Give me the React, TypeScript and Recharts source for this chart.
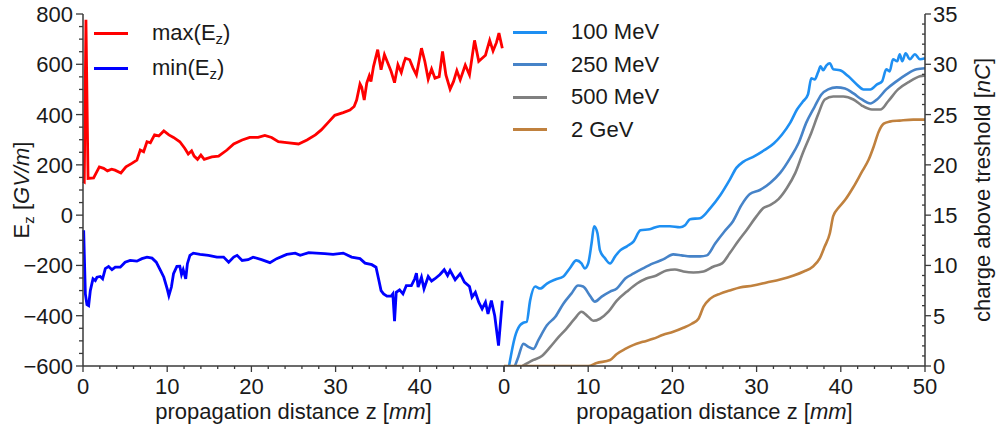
import { Label, Legend, Line, LineChart, XAxis, YAxis } from "recharts";

// ---- left panel: peak fields [GV/m] vs z [mm]
const maxEz: [number, number][] = [
  [0, 135], [0.15, 132], [0.35, 777], [0.6, 146], [1.26, 148], [1.94, 192], [2.45, 186], [2.9, 176],
  [3.4, 183], [3.8, 179], [4.5, 168], [5.1, 192], [5.8, 206], [6.4, 219], [6.8, 259], [7.2, 252],
  [7.6, 292], [8.0, 288], [8.5, 319], [9.0, 315], [9.6, 335], [10.2, 319], [10.75, 309], [11.5, 292],
  [12.1, 265], [12.5, 243], [12.9, 256], [13.2, 235], [13.6, 222], [14.0, 239], [14.4, 222], [15.3, 232],
  [16.1, 235], [17.1, 259], [17.9, 283], [18.9, 299], [19.8, 309], [20.8, 309], [21.6, 317], [22.4, 309],
  [23.2, 292], [24.2, 288], [25.6, 283], [26.6, 299], [27.6, 319], [28.3, 339], [29.1, 368], [29.9, 397],
  [30.9, 408], [31.7, 418], [32.2, 432], [32.5, 458], [32.9, 522], [33.1, 509], [33.4, 458], [33.7, 525],
  [34.0, 554], [34.2, 531], [34.5, 591], [35.0, 658], [35.4, 578], [35.8, 638], [36.2, 605], [36.6, 571],
  [37.0, 527], [37.4, 598], [37.8, 567], [38.1, 605], [38.3, 624], [38.8, 618], [39.2, 585], [39.6, 558],
  [40.2, 664], [40.6, 611], [41.0, 541], [41.4, 581], [41.8, 545], [42.3, 551], [42.7, 651], [43.1, 558],
  [43.6, 501], [44.0, 531], [44.4, 575], [44.8, 538], [45.4, 597], [45.9, 558], [46.5, 695], [47.0, 612],
  [47.5, 627], [47.8, 636], [48.0, 660], [48.3, 695], [48.7, 653], [49.1, 686], [49.4, 724], [49.8, 664],
];

const minEz: [number, number][] = [
  [0.08, -60], [0.28, -313], [0.47, -356], [0.67, -360], [0.87, -300], [1.19, -253], [1.46, -260],
  [1.66, -247], [2.05, -244], [2.33, -253], [2.65, -213], [3.04, -204], [3.44, -217], [3.83, -207],
  [4.43, -207], [5.0, -187], [5.6, -180], [6.4, -183], [7.0, -173], [7.6, -167], [8.2, -171], [8.7, -187],
  [9.2, -220], [9.6, -247], [10.0, -293], [10.2, -320], [10.5, -286], [10.75, -233], [11.15, -204],
  [11.5, -203], [11.7, -236], [11.9, -217], [12.2, -253], [12.4, -193], [12.7, -160], [13.1, -151],
  [13.9, -156], [14.9, -160], [15.9, -167], [16.7, -167], [17.3, -187], [17.9, -167], [18.3, -160],
  [18.9, -180], [19.6, -177], [20.2, -167], [21.2, -177], [22.2, -189], [23.0, -173], [24.2, -156],
  [25.2, -151], [25.8, -160], [26.8, -149], [27.7, -151], [28.7, -153], [29.7, -156], [30.9, -151],
  [31.9, -167], [32.9, -173], [33.5, -191], [34.3, -197], [34.8, -207], [35.1, -253], [35.4, -300],
  [35.7, -313], [36.1, -322], [36.6, -322], [36.8, -313], [37.0, -422], [37.2, -307], [37.6, -297],
  [38.0, -313], [38.4, -280], [39.0, -280], [39.4, -253], [39.6, -231], [39.8, -286], [40.2, -247],
  [40.5, -293], [41.0, -244], [41.4, -262], [41.8, -253], [42.4, -236], [42.9, -217], [43.3, -240],
  [43.6, -220], [44.2, -257], [44.8, -233], [45.3, -266], [45.9, -284], [46.2, -326], [46.6, -307],
  [47.0, -346], [47.4, -373], [47.8, -346], [48.1, -393], [48.5, -340], [48.9, -400], [49.35, -519],
  [49.8, -340],
];

// ---- right panel: charge above threshold [nC] vs z [mm]
const q100: [number, number][] = [
  [0.6, 0], [1.3, 2.9], [1.9, 4.05], [2.3, 4.3], [2.7, 4.4], [3.1, 6.5], [3.7, 7.9], [4.3, 7.7],
  [5.1, 8.2], [6.1, 8.6], [7.05, 8.9], [7.8, 9.7], [8.6, 10.5], [9.2, 10.2], [9.6, 9.7], [10.0, 10.2],
  [10.4, 12.2], [10.7, 13.9], [11.1, 13.2], [11.4, 11.5], [12.0, 10.7], [12.6, 10.2], [13.2, 10.9],
  [13.8, 11.5], [14.6, 11.9], [15.4, 12.4], [16.2, 13.5], [17.3, 13.6], [18.5, 13.9], [19.7, 13.9],
  [20.9, 13.8], [21.5, 14.0], [22.1, 14.6], [23.3, 14.7], [24.5, 15.7], [25.7, 17.0], [26.8, 18.5],
  [27.6, 19.7], [28.4, 20.3], [29.6, 20.8], [30.8, 21.4], [32.0, 22.1], [33.0, 23.0], [34.0, 24.2],
  [34.8, 25.5], [35.5, 26.3], [36.1, 27.0], [36.5, 28.6], [36.9, 28.5], [37.3, 29.2], [37.6, 29.8],
  [37.9, 29.4], [38.3, 29.9], [38.7, 30.1], [39.1, 29.5], [39.9, 29.4], [40.9, 28.8], [41.9, 28.0],
  [42.7, 27.5], [43.5, 27.5], [44.3, 28.0], [44.9, 28.3], [45.4, 29.5], [45.8, 29.3], [46.2, 30.5],
  [46.7, 30.3], [47.0, 31.0], [47.3, 30.3], [47.7, 31.1], [48.2, 30.5], [48.8, 31.0], [49.4, 30.5],
  [50, 30.6],
];

const q250: [number, number][] = [
  [1.3, 0], [1.7, 0.9], [2.3, 2.2], [2.9, 1.9], [3.5, 1.7], [4.1, 2.6], [5.1, 4.05], [6.1, 4.9],
  [7.05, 6.2], [8.0, 7.2], [8.8, 8.0], [9.4, 7.9], [10.2, 7.0], [10.8, 6.4], [11.6, 6.9], [12.6, 7.4],
  [13.4, 7.7], [14.4, 8.7], [15.4, 9.2], [16.5, 9.7], [17.7, 10.2], [18.9, 10.6], [20.1, 11.1],
  [21.1, 11.0], [22.1, 10.9], [23.3, 10.9], [24.1, 11.0], [25.1, 12.2], [26.2, 13.4], [27.2, 14.4],
  [28.2, 16.0], [29.2, 17.1], [30.4, 17.5], [31.6, 18.2], [32.8, 19.2], [34.0, 20.7], [35.0, 22.2],
  [35.9, 24.2], [36.9, 25.8], [37.7, 27.0], [38.5, 27.5], [39.5, 27.7], [40.5, 27.6], [41.5, 27.1],
  [42.5, 26.5], [43.5, 26.1], [44.3, 26.5], [45.4, 27.5], [46.6, 28.3], [47.8, 29.0], [49.0, 29.5],
  [50, 29.6],
];

const q500: [number, number][] = [
  [2.2, 0], [3.5, 0.6], [4.5, 1.0], [5.5, 1.9], [6.5, 2.9], [7.4, 3.7], [8.4, 4.7], [9.2, 5.4],
  [10.0, 4.9], [10.6, 4.5], [11.4, 4.7], [12.4, 5.4], [13.4, 6.5], [14.6, 7.4], [15.8, 8.2],
  [16.9, 8.7], [18.1, 9.0], [19.3, 9.5], [20.3, 9.6], [21.3, 9.4], [22.5, 9.3], [23.7, 9.4],
  [24.9, 9.9], [25.9, 10.2], [26.8, 11.2], [27.8, 12.4], [28.8, 13.5], [30.0, 14.9], [30.8, 15.7],
  [31.6, 16.0], [32.6, 16.6], [33.6, 17.7], [34.6, 19.2], [35.5, 21.2], [36.5, 23.2], [37.3, 25.0],
  [38.1, 26.5], [39.1, 26.8], [40.3, 26.8], [41.5, 26.5], [42.5, 25.9], [43.7, 25.5], [44.7, 25.5],
  [45.6, 26.3], [46.8, 27.5], [48.2, 28.3], [49.4, 28.8], [50, 28.9],
];

const q2000: [number, number][] = [
  [0, 0], [10.0, 0], [11.0, 0.3], [12.6, 0.6], [13.4, 1.2], [14.4, 1.7], [15.4, 2.1], [16.5, 2.4],
  [17.7, 2.7], [18.9, 3.1], [20.1, 3.4], [21.3, 3.8], [22.3, 4.2], [23.1, 4.7], [23.7, 5.9],
  [24.5, 6.7], [25.7, 7.2], [26.8, 7.5], [28.0, 7.8], [29.6, 8.0], [31.2, 8.3], [32.8, 8.6],
  [34.4, 9.0], [35.6, 9.4], [36.7, 9.9], [37.5, 10.7], [38.1, 11.9], [38.7, 13.2], [39.1, 14.9],
  [39.7, 15.7], [40.5, 16.5], [41.5, 17.8], [42.5, 19.3], [43.3, 20.5], [43.9, 21.8], [44.5, 23.3],
  [45.1, 24.1], [45.8, 24.3], [47.0, 24.4], [48.6, 24.5], [50, 24.5],
];

const zTicks = [0, 2, 4, 6, 8, 10, 12, 14, 16, 18, 20, 22, 24, 26, 28, 30, 32, 34, 36, 38, 40, 42, 44, 46, 48, 50];
const ezTicks = [-600, -550, -500, -450, -400, -350, -300, -250, -200, -150, -100, -50, 0, 50, 100, 150, 200, 250, 300, 350, 400, 450, 500, 550, 600, 650, 700, 750, 800];
const qTicks = [0, 1, 2, 3, 4, 5, 6, 7, 8, 9, 10, 11, 12, 13, 14, 15, 16, 17, 18, 19, 20, 21, 22, 23, 24, 25, 26, 27, 28, 29, 30, 31, 32, 33, 34, 35];

const toPts = (a: [number, number][]) => a.map(([z, v]) => ({ z, v }));

const AXIS = "#3a3a3a";
const TXT = "#1a1a1a";
const FS = 22;
const FONT = "'Liberation Sans', Arial, sans-serif";

const leftSeries = [
  { name: "max", color: "#ff0000", data: maxEz },
  { name: "min", color: "#0000ff", data: minEz },
];
const rightSeries = [
  { name: "100 MeV", color: "#1e8ff2", data: q100 },
  { name: "250 MeV", color: "#4683c8", data: q250 },
  { name: "500 MeV", color: "#808080", data: q500 },
  { name: "2 GeV", color: "#c0813e", data: q2000 },
];

function XTick(props: any) {
  const { x, y, payload, hideLast } = props;
  const v = payload.value;
  const major = v % 10 === 0;
  const show = major && !(hideLast && v === 50);
  return (
    <g>
      <line x1={x} x2={x} y1={y} y2={y + (major ? 6 : 3)} stroke={AXIS} strokeWidth={1.3} />
      {show && (
        <text x={x} y={y + 28} textAnchor="middle" fontSize={FS} fill={TXT} fontFamily={FONT}>
          {v}
        </text>
      )}
    </g>
  );
}

function EzTick(props: any) {
  const { x, y, payload } = props;
  const v = payload.value;
  const major = v % 200 === 0;
  return (
    <g>
      <line x1={x} x2={x - (major ? 7 : 4)} y1={y} y2={y} stroke={AXIS} strokeWidth={1.3} />
      {major && (
        <text x={x - 10} y={y + 8} textAnchor="end" fontSize={FS} fill={TXT} fontFamily={FONT}>
          {v < 0 ? "\u2212" + Math.abs(v) : v}
        </text>
      )}
    </g>
  );
}

function QTick(props: any) {
  const { x, y, payload } = props;
  const v = payload.value;
  const major = v % 5 === 0;
  return (
    <g>
      {major ? (
        <line x1={x} x2={x + 6} y1={y} y2={y} stroke={AXIS} strokeWidth={1.3} />
      ) : (
        <line x1={x} x2={x - 3} y1={y} y2={y} stroke={AXIS} strokeWidth={1.3} />
      )}
      {major && (
        <text x={x + 8} y={y + 8} textAnchor="start" fontSize={FS} fill={TXT} fontFamily={FONT}>
          {v}
        </text>
      )}
    </g>
  );
}

const zTitle = (props: any) => {
  const { viewBox } = props;
  const cx = viewBox.x + viewBox.width / 2;
  return (
    <text x={cx} y={viewBox.y + 53} textAnchor="middle" fontSize={FS} fill={TXT} fontFamily={FONT}>
      propagation distance z [<tspan fontStyle="italic">mm</tspan>]
    </text>
  );
};

const ezTitle = (props: any) => {
  const { viewBox } = props;
  const cy = viewBox.y + viewBox.height / 2;
  const cx = 29;
  return (
    <text x={cx} y={cy} transform={`rotate(-90 ${cx} ${cy})`} textAnchor="middle" fontSize={FS} fill={TXT} fontFamily={FONT}>
      E<tspan fontSize={15} dy={5}>z</tspan>
      <tspan dy={-5}> [</tspan>
      <tspan fontStyle="italic">GV/m</tspan>]
    </text>
  );
};

const qTitle = (props: any) => {
  const { viewBox } = props;
  const cy = viewBox.y + viewBox.height / 2;
  const cx = 990;
  return (
    <text x={cx} y={cy} transform={`rotate(-90 ${cx} ${cy})`} textAnchor="middle" fontSize={FS} fill={TXT} fontFamily={FONT}>
      charge above treshold [<tspan fontStyle="italic">nC</tspan>]
    </text>
  );
};

function LegendBox({ items, rowGap }: { items: { label: any; color: string }[]; rowGap: number }) {
  return (
    <div style={{ fontFamily: FONT, fontSize: FS, color: TXT }}>
      {items.map((it, i) => (
        <div key={i} style={{ display: "flex", alignItems: "center", height: rowGap }}>
          <span style={{ display: "inline-block", width: 34, height: 3, background: it.color, marginRight: 24 }} />
          <span style={{ lineHeight: 1 }}>{it.label}</span>
        </div>
      ))}
    </div>
  );
}

const ezLabel = (kind: string) => (
  <span>
    {kind}(E<sub style={{ fontSize: 15, verticalAlign: -4 }}>z</sub>)
  </span>
);

export default function App() {
  return (
    <div style={{ position: "absolute", left: 0, top: 0, width: 997, height: 432, background: "#fff" }}>
      <div style={{ position: "absolute", left: 0, top: 0 }}>
        <LineChart width={997} height={432} margin={{ top: 14, right: 493, bottom: 0, left: 0 }}>
          <XAxis xAxisId="frame" orientation="top" type="number" domain={[0, 50]} height={0} tick={false} tickLine={false} axisLine={{ stroke: AXIS, strokeWidth: 1.5 }} />
          <XAxis dataKey="z" type="number" domain={[0, 50]} ticks={zTicks} interval={0} height={66} tickSize={0} tickMargin={0} tickLine={false} axisLine={{ stroke: AXIS, strokeWidth: 1.5 }} tick={(p: any) => <XTick {...p} hideLast />}>
            <Label content={zTitle} />
          </XAxis>
          <YAxis type="number" domain={[-600, 800]} ticks={ezTicks} interval={0} width={83} tickSize={0} tickMargin={0} tickLine={false} axisLine={{ stroke: AXIS, strokeWidth: 1.5 }} tick={EzTick} allowDataOverflow>
            <Label content={ezTitle} />
          </YAxis>
          <YAxis yAxisId="frame" orientation="right" type="number" domain={[0, 1]} width={0} tick={false} tickLine={false} axisLine={{ stroke: AXIS, strokeWidth: 1.5 }} />
          {leftSeries.map((s) => (
            <Line key={s.name} data={toPts(s.data)} dataKey="v" type="linear" stroke={s.color} strokeWidth={2.8} dot={false} isAnimationActive={false} />
          ))}
          <Legend
            layout="vertical"
            align="center"
            verticalAlign="middle"
            wrapperStyle={{ position: "absolute", left: 94, top: 16, width: 200 }}
            content={() => (
              <LegendBox
                rowGap={35}
                items={[
                  { label: ezLabel("max"), color: "#ff0000" },
                  { label: ezLabel("min"), color: "#0000ff" },
                ]}
              />
            )}
          />
        </LineChart>
      </div>
      <div style={{ position: "absolute", left: 0, top: 0 }}>
        <LineChart width={997} height={432} margin={{ top: 14, right: 0, bottom: 0, left: 504 }}>
          <XAxis xAxisId="frame" orientation="top" type="number" domain={[0, 50]} height={0} tick={false} tickLine={false} axisLine={{ stroke: AXIS, strokeWidth: 1.5 }} />
          <XAxis dataKey="z" type="number" domain={[0, 50]} ticks={zTicks} interval={0} height={66} tickSize={0} tickMargin={0} tickLine={false} axisLine={{ stroke: AXIS, strokeWidth: 1.5 }} tick={XTick}>
            <Label content={zTitle} />
          </XAxis>
          <YAxis yAxisId="frame" orientation="left" type="number" domain={[0, 1]} width={0} tick={false} tickLine={false} axisLine={{ stroke: AXIS, strokeWidth: 1.5 }} />
          <YAxis orientation="right" type="number" domain={[0, 35]} ticks={qTicks} interval={0} width={72} tickSize={0} tickMargin={0} tickLine={false} axisLine={{ stroke: AXIS, strokeWidth: 1.5 }} tick={QTick} allowDataOverflow>
            <Label content={qTitle} />
          </YAxis>
          {rightSeries.map((s) => (
            <Line key={s.name} data={toPts(s.data)} dataKey="v" type="monotone" stroke={s.color} strokeWidth={2.6} dot={false} isAnimationActive={false} />
          ))}
          <Legend
            layout="vertical"
            align="center"
            verticalAlign="middle"
            wrapperStyle={{ position: "absolute", left: 513, top: 16, width: 200 }}
            content={() => (
              <LegendBox rowGap={32.5} items={rightSeries.map((s) => ({ label: s.name, color: s.color }))} />
            )}
          />
        </LineChart>
      </div>
    </div>
  );
}
